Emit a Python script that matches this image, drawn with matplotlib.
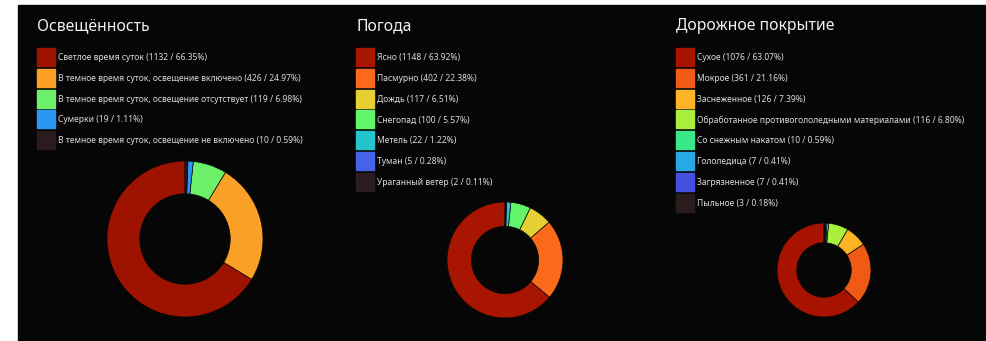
import matplotlib.pyplot as plt
from matplotlib.patches import Rectangle

plt.rcParams['font.family'] = ['Noto Sans', 'DejaVu Sans']

# --- data ---
light_names = ['Светлое время суток', 'В темное время суток, освещение включено',
               'В темное время суток, освещение отсутствует', 'Сумерки',
               'В темное время суток, освещение не включено']
light_counts = [1132, 426, 119, 19, 10]
light_colors = ['#9e1200', '#fba026', '#6cf06a', '#2a98f2', '#2b1a1e']

weather_names = ['Ясно', 'Пасмурно', 'Дождь', 'Снегопад', 'Метель', 'Туман', 'Ураганный ветер']
weather_counts = [1148, 402, 117, 100, 22, 5, 2]
weather_colors = ['#a81500', '#fb6a1a', '#e6cf30', '#62f56a', '#24c4cc', '#4562e8', '#2a1c20']

road_names = ['Сухое', 'Мокрое', 'Заснеженное', 'Обработанное противогололедными материалами',
              'Со снежным накатом', 'Гололедица', 'Загрязненное', 'Пыльное']
road_counts = [1076, 361, 126, 116, 10, 7, 7, 3]
road_colors = ['#a81300', '#f05a14', '#fcb425', '#a8f03c', '#3ae88a', '#28a8e4', '#4650e0', '#2a1c1c']

titles = ['Освещённость', 'Погода', 'Дорожное покрытие']

W, H = 986, 341
fig = plt.figure(figsize=(W / 100, H / 100), dpi=100, facecolor='white')

# overlay in pixel coordinates
ov = fig.add_axes([0, 0, 1, 1])
ov.set_xlim(0, W)
ov.set_ylim(H, 0)
ov.axis('off')
ov.add_patch(Rectangle((18, 5), W - 18, H - 5, color='#060606', zorder=0))

panels = [
    (light_names, light_counts, light_colors, 37, (185, 239, 78)),
    (weather_names, weather_counts, weather_colors, 356, (505, 260, 58)),
    (road_names, road_counts, road_colors, 676, (824, 270, 47)),
]

for (names, counts, colors, x0, (cx, cy, r)), title in zip(panels, titles):
    total = sum(counts)
    ov.text(x0, 30, title, color='#f2f2f2', fontsize=11.3, va='baseline', ha='left')
    for i, (n, c, col) in enumerate(zip(names, counts, colors)):
        y = 48 + i * 20.8
        ov.add_patch(Rectangle((x0, y), 18, 18, color=col, zorder=2))
        ov.text(x0 + 21, y + 9.5, f'{n} ({c} / {100 * c / total:.2f}%)',
                color='#dcdcdc', fontsize=6.1, va='center', ha='left')
    ax = fig.add_axes([(cx - r) / W, (H - cy - r) / H, 2 * r / W, 2 * r / H])
    ax.pie(counts, colors=colors, startangle=90, radius=1,
           wedgeprops=dict(width=0.42, edgecolor='#060606', linewidth=0.5))
    ax.set_xlim(-1, 1)
    ax.set_ylim(-1, 1)
    ax.axis('off')

fig.savefig('out.png', dpi=100, facecolor='white')
